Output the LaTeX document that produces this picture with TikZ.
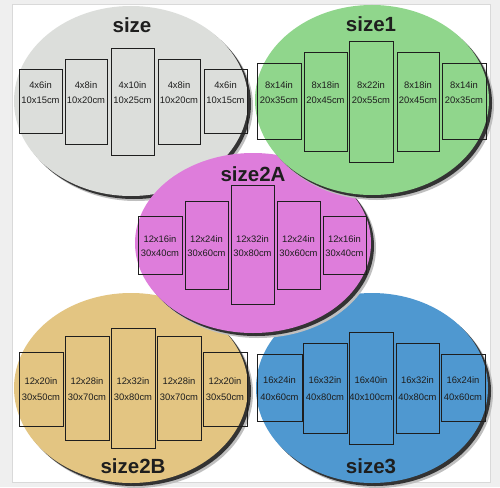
\documentclass[tikz,border=0pt]{standalone}
\usepackage{fontspec}
\setmainfont{Liberation Sans}
\definecolor{outerbg}{HTML}{EFEFEF}
\definecolor{cgray}{HTML}{DCDEDB}
\definecolor{cgreen}{HTML}{90D68C}
\definecolor{cpink}{HTML}{DE7DDB}
\definecolor{ctan}{HTML}{E3C582}
\definecolor{cblue}{HTML}{4F98D0}
\definecolor{ink}{HTML}{1E1E1E}
\newcommand\myblob[5]{%
  \fill[black!25] (#1+5,#2+5) ellipse[x radius=#3, y radius=#4];
  \fill[black!80] (#1+3,#2+3) ellipse[x radius=#3, y radius=#4];
  \fill[#5] (#1,#2) ellipse[x radius=#3, y radius=#4];
}
\newcommand\mypanel[9]{%
  \draw[panelline] (#2,#3) rectangle (#4,#5);
  \node[lbl] (#1a) at ({(#2+#4)/2},#8) {#6};
  \node[lbl] (#1b) at ({(#2+#4)/2},#9) {#7};
}
\begin{document}
\begin{tikzpicture}[x=1pt,y=-1pt,
  panelline/.style={draw=ink, line width=0.8pt},
  lbl/.style={anchor=base, inner sep=0pt, text=ink, font=\fontsize{9.4}{11}\selectfont},
  ttl/.style={anchor=base, inner sep=0pt, text=ink, font=\fontsize{20.5}{24}\selectfont\bfseries}]
\useasboundingbox (0,0) rectangle (500,487);
\fill[outerbg] (0,0) rectangle (500,487);
\filldraw[fill=white, draw=black!15, line width=0.6pt] (12.5,4.5) rectangle (490,482);
% ellipses
\myblob{131}{101}{117}{95}{cgray}
\myblob{131}{388}{117}{95}{ctan}
\myblob{372}{388}{116}{95}{cblue}
\myblob{253}{243}{118}{90}{cpink}
\myblob{372}{100}{117}{95}{cgreen}
% gray group
\mypanel{ga}{19}{69}{62}{133}{4x6in}{10x15cm}{88}{103}
\mypanel{gb}{65}{59}{107}{144}{4x8in}{10x20cm}{88}{103}
\mypanel{gc}{111}{48}{154}{155}{4x10in}{10x25cm}{88}{103}
\mypanel{gd}{158}{59}{200}{144}{4x8in}{10x20cm}{88}{103}
\mypanel{ge}{204}{69}{247}{133}{4x6in}{10x15cm}{88}{103}
\node[ttl] (t0) at (132,33) {size};
% tan group
\mypanel{ta}{19}{352}{63}{426}{12x20in}{30x50cm}{384}{400}
\mypanel{tb}{65}{336}{109}{440}{12x28in}{30x70cm}{384}{400}
\mypanel{tc}{111}{328}{155}{448}{12x32in}{30x80cm}{384}{400}
\mypanel{td}{157}{336}{201}{440}{12x28in}{30x70cm}{384}{400}
\mypanel{te}{203}{352}{247}{426}{12x20in}{30x50cm}{384}{400}
\node[ttl] (t3) at (133,473) {size2B};
% blue group
\mypanel{ba}{257}{354}{302}{421}{16x24in}{40x60cm}{383}{400}
\mypanel{bb}{303}{343}{347}{433}{16x32in}{40x80cm}{383}{400}
\mypanel{bc}{349}{332}{393}{444}{16x40in}{40x100cm}{383}{400}
\mypanel{bd}{396}{343}{439}{433}{16x32in}{40x80cm}{383}{400}
\mypanel{be}{441}{354}{485}{421}{16x24in}{40x60cm}{383}{400}
\node[ttl] (t4) at (371,473) {size3};
% pink group
\mypanel{pa}{138}{216}{182}{274}{12x16in}{30x40cm}{242}{256}
\mypanel{pb}{185}{201}{228}{289}{12x24in}{30x60cm}{242}{256}
\mypanel{pc}{231}{185}{274}{304}{12x32in}{30x80cm}{242}{256}
\mypanel{pd}{277}{201}{320}{289}{12x24in}{30x60cm}{242}{256}
\mypanel{pe}{323}{216}{366}{274}{12x16in}{30x40cm}{242}{256}
\node[ttl] (t2) at (253,181) {size2A};
% green group
\mypanel{na}{257}{63}{301}{139}{8x14in}{20x35cm}{88}{103}
\mypanel{nb}{304}{52}{347}{151}{8x18in}{20x45cm}{88}{103}
\mypanel{nc}{349}{41}{393}{162}{8x22in}{20x55cm}{88}{103}
\mypanel{nd}{397}{52}{439}{151}{8x18in}{20x45cm}{88}{103}
\mypanel{ne}{442}{63}{486}{139}{8x14in}{20x35cm}{88}{103}
\node[ttl] (t1) at (371,32) {size1};
\end{tikzpicture}
\end{document}
